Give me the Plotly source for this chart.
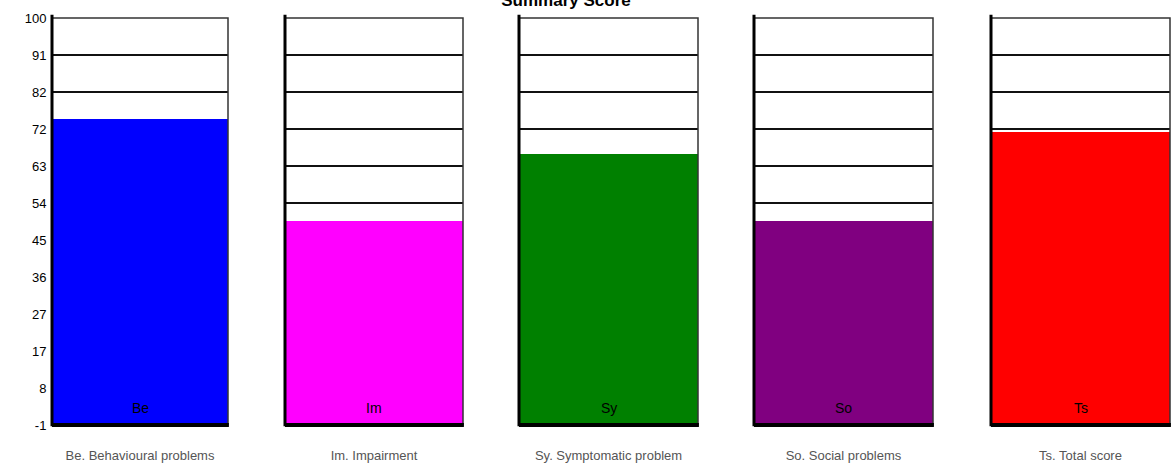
import plotly.graph_objects as go

codes = ["Be", "Im", "Sy", "So", "Ts"]
labels = ["Be. Behavioural problems", "Im. Impairment", "Sy. Symptomatic problem",
          "So. Social problems", "Ts. Total score"]
values = [74.9, 49.6, 66.3, 49.6, 71.7]
colors = ["#0000FF", "#FF00FF", "#008000", "#800080", "#FF0000"]
y_min, y_max = -1, 100
n_steps = 11
tick_vals = [y_min + k * (y_max - y_min) / n_steps for k in range(n_steps + 1)]
tick_text = [str(round(v)) for v in tick_vals]

W = 1173
ml, mr = 52, 3
pw = W - ml - mr
panel_px = [(52, 228), (285, 463), (519, 698), (754, 933), (991, 1170)]
domains = [((a - ml) / pw, (b - ml) / pw) for a, b in panel_px]

font = "Liberation Sans, Arial, sans-serif"
fig = go.Figure()
layout = dict(
    width=1173, height=473,
    margin=dict(l=ml, r=mr, t=18, b=48, autoexpand=False),
    paper_bgcolor="white", plot_bgcolor="white",
    showlegend=False, bargap=0,
    font=dict(family=font, size=12, color="black"),
    title=dict(text="<b>Summary Score</b>", x=(566 / W), xanchor="center",
               y=1.0, yref="container", yanchor="middle",
               font=dict(size=17, family=font, color="black")),
)
shapes = []
annotations = []
for i in range(5):
    s = "" if i == 0 else str(i + 1)
    fig.add_trace(go.Bar(
        x=[0], y=[values[i] - y_min], base=[y_min], width=[1],
        marker=dict(color=colors[i], line=dict(width=0)),
        xaxis="x" + s, yaxis="y" + s, hoverinfo="skip",
    ))
    layout["xaxis" + s] = dict(
        domain=list(domains[i]), range=[-0.5, 0.5], anchor="y" + s,
        tickvals=[0], ticktext=[labels[i]], ticks="outside", ticklen=18,
        tickcolor="rgba(0,0,0,0)", showgrid=False, zeroline=False, showline=False,
        tickfont=dict(color="#555555", size=13, family=font), fixedrange=True,
        automargin=False,
    )
    layout["yaxis" + s] = dict(
        domain=[0, 1], range=[y_min, y_max], anchor="x" + s,
        tickvals=tick_vals, ticktext=tick_text, showticklabels=(i == 0),
        showgrid=True, gridcolor="#111111", gridwidth=1.5,
        zeroline=False, showline=False, ticks="outside", ticklen=2,
        tickcolor="rgba(0,0,0,0)",
        tickfont=dict(color="black", size=13, family=font), fixedrange=True,
        automargin=False,
    )
    xr = ("x" if i == 0 else "x" + s) + " domain"
    yr = ("y" if i == 0 else "y" + s) + " domain"
    shapes.append(dict(type="rect", xref=xr, yref=yr, x0=0, x1=1, y0=0, y1=1,
                       line=dict(color="#333333", width=1.5), layer="above"))
    shapes.append(dict(type="line", xref=xr, yref=yr, x0=0, x1=0, y0=-0.003, y1=1.008,
                       line=dict(color="black", width=3), layer="above"))
    shapes.append(dict(type="line", xref=xr, yref=yr, x0=0, x1=1.005, y0=0, y1=0,
                       line=dict(color="black", width=4), layer="above"))
    annotations.append(dict(text=codes[i], xref=xr, yref=yr, x=0.5, y=0,
                            xanchor="center", yanchor="bottom", yshift=7,
                            showarrow=False,
                            font=dict(color="black", size=14, family=font)))
layout["shapes"] = shapes
layout["annotations"] = annotations
fig.update_layout(**layout)
fig.write_html("out.html", config={"displayModeBar": False},
               post_script="document.body.style.margin='0';document.body.style.overflow='hidden';")
